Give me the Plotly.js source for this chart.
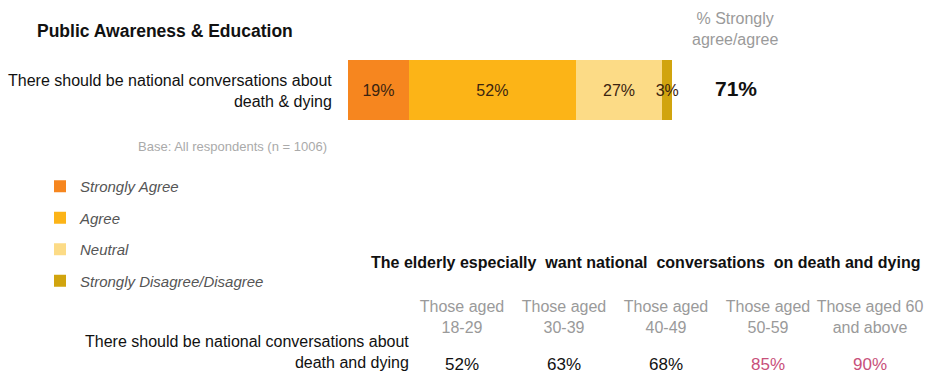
<!DOCTYPE html>
<html>
<head>
<meta charset="utf-8">
<script src="https://cdn.plot.ly/plotly-3.0.1.min.js"></script>
<style>html,body{margin:0;padding:0;background:#fff;}#chart{width:927px;height:375px;}</style>
</head>
<body>
<div id="chart"></div>
<script>
// ---- data ----
const statement = "There should be national conversations about<br>death & dying";
const responseNames = ["Strongly Agree", "Agree", "Neutral", "Strongly Disagree/Disagree"];
const responseValues = [19, 52, 27, 3];
const responseColors = ["#F6861F", "#FCB417", "#FCDB86", "#D1A40E"];
const agreeTotal = 71;

const ageGroups = ["Those aged<br>18-29", "Those aged<br>30-39", "Those aged<br>40-49", "Those aged<br>50-59", "Those aged 60<br>and above"];
const ageValues = [52, 63, 68, 85, 90];
const ageColors = ["#111111", "#111111", "#111111", "#C8507A", "#C8507A"];

// ---- traces ----
const W = 927, H = 375;
const FONT = "Liberation Sans, Arial, sans-serif";
const traces = responseNames.map((name, i) => ({
  type: "bar",
  orientation: "h",
  name: name,
  legendgroup: "g" + i,
  x: [responseValues[i]],
  y: [statement],
  marker: { color: responseColors[i], line: { width: 0 } },
  width: 1,
  text: [responseValues[i] + "%"],
  textposition: "inside",
  insidetextanchor: "middle",
  textangle: 0,
  constraintext: "none",
  cliponaxis: false,
  textfont: { family: FONT, size: 16, color: "#3b2410" },
  hoverinfo: "skip",
  xaxis: "x",
  yaxis: "y"
}));

traces.push({
  type: "scatter",
  mode: "text",
  x: ageGroups,
  y: ageValues.map(() => 0),
  text: ageValues.map(v => v + "%"),
  textposition: "middle center",
  textfont: { family: FONT, size: 17, color: ageColors },
  cliponaxis: false,
  showlegend: false,
  hoverinfo: "skip",
  xaxis: "x2",
  yaxis: "y2"
});

const gray = "#9a9a9a";
const layout = {
  width: W, height: H,
  margin: { l: 0, r: 0, t: 0, b: 0 },
  paper_bgcolor: "#ffffff",
  plot_bgcolor: "rgba(0,0,0,0)",
  barmode: "stack",
  showlegend: true,
  font: { family: FONT },
  xaxis: { domain: [348 / W, 672 / W], range: [0, responseValues.reduce((a, b) => a + b, 0)], visible: false, fixedrange: true },
  yaxis: { domain: [1 - 120 / H, 1 - 60 / H], range: [-0.5, 0.5], visible: false, fixedrange: true },
  xaxis2: {
    domain: [411 / W, 921 / W], range: [-0.5, 4.5], anchor: "y2", side: "top",
    showline: false, showgrid: false, zeroline: false, ticks: "",
    tickfont: { size: 16, color: gray, family: FONT },
    ticklabelstandoff: 20
  },
  yaxis2: { domain: [0, 18 / H], range: [-1, 1], visible: false },
  legend: {
    x: 40 / W, y: 1 - 170 / H, xanchor: "left", yanchor: "top",
    bgcolor: "rgba(0,0,0,0)",
    traceorder: "grouped",
    tracegroupgap: 9,
    itemwidth: 30,
    font: { size: 15, color: "#555555", style: "italic", family: FONT }
  },
  annotations: [
    { text: "<b>Public Awareness & Education</b>", xref: "paper", yref: "paper", x: 35 / W, y: 1 - 31 / H, xanchor: "left", yanchor: "middle", showarrow: false, font: { size: 17.5, color: "#111" } },
    { text: statement, xref: "paper", yref: "paper", x: 334 / W, y: 1 - 91 / H, xanchor: "right", yanchor: "middle", align: "right", showarrow: false, font: { size: 16, color: "#111" } },
    { text: "Base: All respondents (n = 1006)", xref: "paper", yref: "paper", x: 329 / W, y: 1 - 146 / H, xanchor: "right", yanchor: "middle", showarrow: false, font: { size: 13, color: "#aaaaaa" } },
    { text: "% Strongly<br>agree/agree", xref: "paper", yref: "paper", x: 735 / W, y: 1 - 29 / H, xanchor: "center", yanchor: "middle", showarrow: false, font: { size: 16, color: gray } },
    { text: "<b>" + agreeTotal + "%</b>", xref: "paper", yref: "paper", x: 736 / W, y: 1 - 88 / H, xanchor: "center", yanchor: "middle", showarrow: false, font: { size: 21, color: "#111" } },
    { text: "<b>The elderly especially  want national  conversations  on death and dying</b>", xref: "paper", yref: "paper", x: 922 / W, y: 1 - 262 / H, xanchor: "right", yanchor: "middle", showarrow: false, font: { size: 16, color: "#111" } },
    { text: "There should be national conversations about<br>death and dying", xref: "paper", yref: "paper", x: 411 / W, y: 1 - 352 / H, xanchor: "right", yanchor: "middle", align: "right", showarrow: false, font: { size: 16, color: "#111" } }
  ]
};

Plotly.newPlot("chart", traces, layout, { displayModeBar: false, staticPlot: true });
</script>
</body>
</html>
